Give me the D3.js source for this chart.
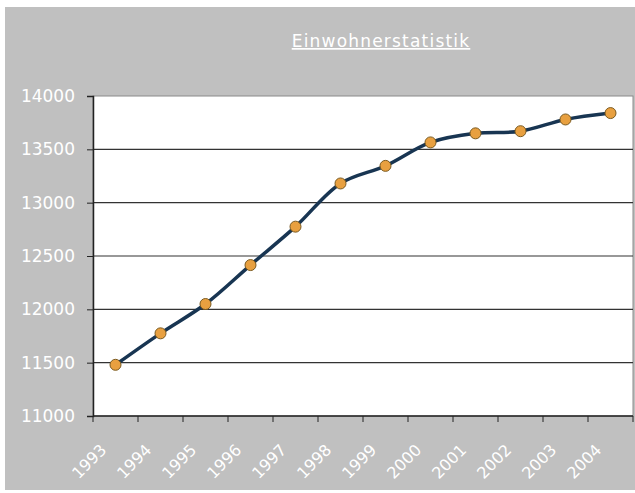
<!DOCTYPE html>
<html>
<head>
<meta charset="utf-8">
<script src="https://cdn.jsdelivr.net/npm/d3@7"></script>
<style>
	body { margin: 0; background: #ffffff; }
	svg { display: block; }
	text { font-family: "DejaVu Sans", Verdana, sans-serif; }
</style>
</head>
<body>
<svg id="chart" width="635" height="493"></svg>
<script>
var years = ["1993","1994","1995","1996","1997","1998","1999","2000","2001","2002","2003","2004"];
var einwohner = [11480, 11775, 12050, 12415, 12775, 13180, 13345, 13565, 13650, 13670, 13780, 13840];
var yTicks = [11000, 11500, 12000, 12500, 13000, 13500, 14000];
var title = "Einwohnerstatistik";

var PLOT = {left: 93, right: 633, top: 96, bottom: 416};

var svg = d3.select("#chart");

// grauer Hintergrund
svg.append("rect")
	.attr("x", 5).attr("y", 7)
	.attr("width", 630).attr("height", 483)
	.attr("fill", "#c0c0c0");

// Titel
svg.append("text")
	.attr("x", 381).attr("y", 47)
	.attr("text-anchor", "middle")
	.attr("fill", "#ffffff")
	.attr("font-size", 17)
	.attr("letter-spacing", 1.2)
	.attr("text-decoration", "underline")
	.text(title);

var x = d3.scaleBand()
	.domain(years)
	.range([PLOT.left, PLOT.right]);

var y = d3.scaleLinear()
	.domain([11000, 14000])
	.range([PLOT.bottom, PLOT.top]);

// Plotflaeche
svg.append("rect")
	.attr("x", PLOT.left).attr("y", PLOT.top)
	.attr("width", PLOT.right - PLOT.left)
	.attr("height", PLOT.bottom - PLOT.top)
	.attr("fill", "#ffffff")
	.attr("stroke", "#8a8a8a")
	.attr("stroke-width", 1);

// Gitterlinien
svg.append("g")
	.selectAll("line")
	.data(yTicks.slice(1, -1))
	.enter().append("line")
		.attr("x1", PLOT.left).attr("x2", PLOT.right)
		.attr("y1", function(d) {return y(d);})
		.attr("y2", function(d) {return y(d);})
		.attr("stroke", "#333")
		.attr("stroke-width", 1.2);

// y-Achse
var yAxis = svg.append("g")
	.attr("transform", "translate(" + PLOT.left + ",0)")
	.call(d3.axisLeft(y).tickValues(yTicks).tickSize(6).tickPadding(12).tickFormat(d3.format("d")));
yAxis.select(".domain").attr("stroke", "#222").attr("stroke-width", 1.5);
yAxis.selectAll(".tick line").attr("stroke", "#222");
yAxis.selectAll("text")
	.attr("fill", "#ffffff")
	.attr("font-size", 17)
	.attr("font-family", "DejaVu Sans, Verdana, sans-serif");

// x-Achse
var xTickPos = years.map(function(d) {return x(d);}).concat([PLOT.right]);
var xAxisG = svg.append("g");
xAxisG.append("line")
	.attr("x1", PLOT.left).attr("x2", PLOT.right)
	.attr("y1", PLOT.bottom).attr("y2", PLOT.bottom)
	.attr("stroke", "#222").attr("stroke-width", 1.5);
xAxisG.selectAll("line.tick")
	.data(xTickPos)
	.enter().append("line")
		.classed("tick", true)
		.attr("x1", function(d) {return d;}).attr("x2", function(d) {return d;})
		.attr("y1", PLOT.bottom).attr("y2", PLOT.bottom + 6)
		.attr("stroke", "#222");
xAxisG.selectAll("text")
	.data(years)
	.enter().append("text")
		.attr("transform", function(d) {
			var cx = x(d) + x.bandwidth() / 2 - 12;
			return "translate(" + cx + "," + (PLOT.bottom + 31) + ") rotate(-45)";
		})
		.attr("text-anchor", "end")
		.attr("dy", "0.35em")
		.attr("fill", "#ffffff")
		.attr("font-size", 16)
		.text(function(d) {return d;});

// Linie
var line = d3.line()
	.x(function(d, i) {return x(years[i]) + x.bandwidth() / 2;})
	.y(function(d) {return y(d);})
	.curve(d3.curveCatmullRom.alpha(0.5));

svg.append("path")
	.datum(einwohner)
	.attr("d", line)
	.attr("fill", "none")
	.attr("stroke", "#183552")
	.attr("stroke-width", 3.5);

svg.append("g")
	.selectAll("circle")
	.data(einwohner)
	.enter().append("circle")
		.attr("cx", function(d, i) {return x(years[i]) + x.bandwidth() / 2;})
		.attr("cy", function(d) {return y(d);})
		.attr("r", 5.5)
		.attr("fill", "#e8a040")
		.attr("stroke", "#7a5a20")
		.attr("stroke-width", 1);
</script>
</body>
</html>
